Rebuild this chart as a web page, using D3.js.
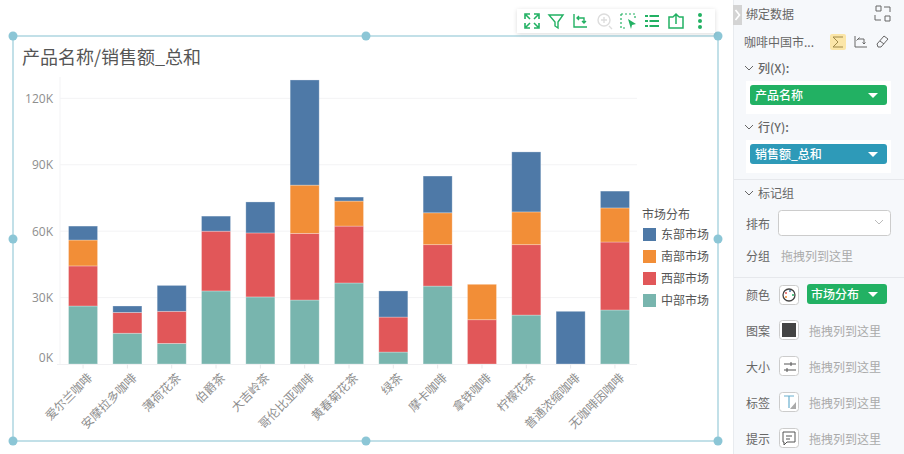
<!DOCTYPE html>
<html>
<meta charset="utf-8">
<style>
  html, body { margin: 0; padding: 0; background: #fff; overflow: hidden; }
  svg { display: block; }
  text { font-family: "Noto Sans CJK SC", "Noto Sans", sans-serif; }
  .tick-label { font-size: 12px; fill: #8e8e8e; }
  .value-label { font-family: "Open Sans", sans-serif; font-size: 12px; fill: #8e8e8e; }
  .panel-label { font-size: 12px; fill: #666; }
  .panel-hint { font-size: 12px; fill: #aaa; }
  .pill-label { font-size: 12px; fill: #fff; font-weight: 500; }
</style>

<body>
  <script src="https://d3js.org/d3.v7.min.js"></script>
  <script>
    // chart data, in thousands
    const products = ["爱尔兰咖啡", "安摩拉多咖啡", "薄荷花茶", "伯爵茶", "大吉岭茶", "哥伦比亚咖啡", "黄春菊花茶", "绿茶", "摩卡咖啡", "拿铁咖啡", "柠檬花茶", "普通浓缩咖啡", "无咖啡因咖啡"];
    const central = [26.2, 13.9, 9.3, 33, 30.3, 28.9, 36.6, 5.4, 35.2, 0, 22.1, 0, 24.4];
    const west = [18.1, 9.4, 14.5, 27, 28.9, 30.1, 25.7, 15.8, 18.7, 20, 31.8, 0, 30.7];
    const south = [11.7, 0, 0, 0, 0, 21.8, 11.3, 0, 14.4, 16, 14.8, 0, 15.4];
    const east = [6.3, 2.9, 11.7, 6.8, 14, 47.5, 1.8, 11.8, 16.6, 0, 27.1, 23.8, 7.6];

    const seriesNames = ["中部市场", "西部市场", "南部市场", "东部市场"];
    const seriesValues = [central, west, south, east];
    const seriesColors = ["#78b5ae", "#e15759", "#f28e37", "#4e79a7"];
    const yTicks = [0, 30, 60, 90, 120];

    const legendNames = ["东部市场", "南部市场", "西部市场", "中部市场"];
    const legendColors = ["#4e79a7", "#f28e37", "#e15759", "#78b5ae"];

    const svg = d3.select("body").append("svg").attr("width", 904).attr("height", 454);

    // shadow for the floating toolbar
    const filter = svg.append("defs").append("filter").attr("id", "shadow")
      .attr("x", "-10%").attr("y", "-30%").attr("width", "120%").attr("height", "160%");
    filter.append("feDropShadow").attr("dx", 0).attr("dy", 1).attr("stdDeviation", 2)
      .attr("flood-color", "#000").attr("flood-opacity", 0.14);

    const x = d3.scaleBand().domain(products).range([61, 637]).paddingInner(0.345).paddingOuter(0.17);
    const y = d3.scaleLinear().domain([0, 130]).range([364, 76.2]);

    // grid
    svg.append("g").selectAll("line").data(yTicks.slice(1)).join("line")
      .attr("x1", 60).attr("x2", 637)
      .attr("y1", d => y(d)).attr("y2", d => y(d))
      .attr("stroke", "#f3f3f5");
    svg.append("line").attr("x1", 60).attr("x2", 60).attr("y1", 77).attr("y2", 364).attr("stroke", "#f3f3f5");

    // stacked bars
    const rows = products.map((p, i) => {
      const row = { product: p };
      seriesNames.forEach((s, j) => { row[s] = seriesValues[j][i]; });
      return row;
    });
    const stacked = d3.stack().keys(seriesNames)(rows);

    svg.append("g").selectAll("g").data(stacked).join("g")
      .attr("fill", (d, i) => seriesColors[i])
      .selectAll("rect").data(d => d.filter(s => s[1] > s[0])).join("rect")
      .attr("x", d => x(d.data.product))
      .attr("y", d => y(d[1]))
      .attr("width", x.bandwidth())
      .attr("height", d => y(d[0]) - y(d[1]))
      .attr("stroke", "#fff")
      .attr("stroke-opacity", 0.35)
      .attr("stroke-width", 0.8);

    // axes
    const yAxis = svg.append("g").attr("transform", "translate(53,0)")
      .call(d3.axisLeft(y).tickValues(yTicks).tickFormat(d => d + "K").tickSize(0));
    yAxis.select(".domain").remove();
    // the 0K label sits above the baseline in the reference
    yAxis.selectAll("text").attr("class", "value-label").attr("x", 0)
      .attr("dy", d => d === 0 ? "-0.25em" : "0.35em").attr("font-family", null).attr("font-size", null);

    const xAxis = svg.append("g").attr("transform", "translate(0,364.5)")
      .call(d3.axisBottom(x).tickSizeOuter(0).tickSize(4));
    xAxis.select(".domain").attr("stroke", "#f0f0f2").attr("d", "M57,0H637");
    xAxis.selectAll("line").attr("stroke", "#e8e8ea");
    xAxis.selectAll("text")
      .attr("class", "tick-label")
      .attr("text-anchor", "end")
      .attr("x", 0).attr("y", 0).attr("dy", 0)
      .attr("transform", "translate(10,14) rotate(-45)");

    // title
    svg.append("text").attr("x", 22).attr("y", 64).attr("font-size", 18).attr("fill", "#555").text("产品名称/销售额_总和");

    // legend
    svg.append("text").attr("x", 642).attr("y", 219).attr("font-size", 12).attr("fill", "#555").text("市场分布");
    const legend = svg.append("g").selectAll("g").data(legendNames).join("g")
      .attr("transform", (d, i) => `translate(643,${228 + i * 22})`);
    legend.append("rect").attr("width", 13).attr("height", 13).attr("fill", (d, i) => legendColors[i]);
    legend.append("text").attr("x", 18).attr("y", 11).attr("font-size", 12).attr("fill", "#555").text(d => d);

    // selection frame and handles
    svg.append("rect").attr("x", 13).attr("y", 36).attr("width", 705).attr("height", 405)
      .attr("fill", "none").attr("stroke", "#c2e0e8").attr("stroke-width", 2);
    const handles = [[13, 36], [366, 36], [718, 36], [13, 239], [718, 239], [13, 441], [366, 441], [718, 441]];
    svg.append("g").selectAll("circle").data(handles).join("circle")
      .attr("cx", d => d[0]).attr("cy", d => d[1]).attr("r", 4.5).attr("fill", "#8cc6d6");

    // floating toolbar
    const green = "#22b163";
    svg.append("rect").attr("x", 517).attr("y", 9).attr("width", 198).attr("height", 24)
      .attr("fill", "#fff").attr("filter", "url(#shadow)");
    const toolIcons = [
      { x: 532, d: "M-7,-2V-7H-2M2,-7H7V-2M7,2V7H2M-2,7H-7V2M-6,-6L-2,-2M6,-6L2,-2M6,6L2,2M-6,6L-2,2", c: green, w: 1.6 },
      { x: 556, d: "M-7,-6H7L2,1V7L-1,5V1Z", c: green, w: 1.4 },
      { x: 580, d: "M-6,-7V6H7M-3,-3H4V2M-1,-5L-3,-3L-1,-1M2,0L4,2L6,0", c: green, w: 1.4 },
      { x: 604, d: "M5,5L8,8M-3,-1H3M0,-4V2", c: "#ddd", w: 1.4 },
      { x: 628, d: "M-7,-7H7V-1M-7,-7V7H-1", c: green, w: 1.2, dash: "2,2" },
      { x: 652, d: "M-7,-5H7M-7,0H7M-7,5H7", c: green, w: 2, dash: "3,1.5,9.5" },
      { x: 676, d: "M-3,-4H-7V7H7V-4H3M0,3V-7M-3,-4L0,-7L3,-4", c: green, w: 1.5 }
    ];
    const tools = svg.append("g").selectAll("g").data(toolIcons).join("g")
      .attr("transform", d => `translate(${d.x},21)`);
    tools.append("path").attr("d", d => d.d).attr("fill", "none")
      .attr("stroke", d => d.c).attr("stroke-width", d => d.w).attr("stroke-dasharray", d => d.dash || null);
    svg.append("circle").attr("cx", 604).attr("cy", 20).attr("r", 6).attr("fill", "none").attr("stroke", "#ddd").attr("stroke-width", 1.4);
    svg.append("path").attr("d", "M628,19L636,24L632,25L631,29Z").attr("fill", green);
    svg.append("g").selectAll("circle").data([-5.5, 0.5, 6.5]).join("circle")
      .attr("cx", 700).attr("cy", d => 20.5 + d).attr("r", 2).attr("fill", green);

    // right side panel
    svg.append("rect").attr("x", 733).attr("y", 0).attr("width", 171).attr("height", 454).attr("fill", "#f6f8fb");
    svg.append("line").attr("x1", 733.5).attr("x2", 733.5).attr("y1", 0).attr("y2", 454).attr("stroke", "#e8ebef");
    svg.append("rect").attr("x", 733).attr("y", 5).attr("width", 9).attr("height", 20).attr("fill", "#d4d4d4");
    svg.append("path").attr("d", "M735.5,10L739.5,15L735.5,20").attr("fill", "none").attr("stroke", "#fff").attr("stroke-width", 1.6);

    const whiteBoxes = [[746, 81, 145, 33], [746, 140, 145, 33]];
    svg.append("g").selectAll("rect").data(whiteBoxes).join("rect")
      .attr("x", d => d[0]).attr("y", d => d[1]).attr("width", d => d[2]).attr("height", d => d[3]).attr("fill", "#fff");

    svg.append("g").selectAll("line").data([179, 277]).join("line")
      .attr("x1", 734).attr("x2", 904).attr("y1", d => d + 0.5).attr("y2", d => d + 0.5).attr("stroke", "#e6e8ec");

    const panelLabels = [
      ["绑定数据", 746, 19], ["咖啡中国市...", 744, 47], ["列(X):", 758, 73], ["行(Y):", 758, 132],
      ["标记组", 758, 198], ["排布", 746, 229], ["分组", 746, 261], ["颜色", 746, 300],
      ["图案", 746, 336], ["大小", 746, 372], ["标签", 746, 408], ["提示", 746, 444]
    ];
    svg.append("g").selectAll("text").data(panelLabels).join("text")
      .attr("class", "panel-label")
      .attr("x", d => d[1]).attr("y", d => d[2])
      .attr("font-weight", d => /[XY]/.test(d[0]) ? 500 : 400)
      .text(d => d[0]);

    const chevrons = [68, 127, 193];
    svg.append("g").selectAll("path").data(chevrons).join("path")
      .attr("d", d => `M745,${d - 2}L749,${d + 2}L753,${d - 2}`)
      .attr("fill", "none").attr("stroke", "#666");

    const hints = [[781, 261], [809, 336], [809, 372], [809, 408], [809, 444]];
    svg.append("g").selectAll("text").data(hints).join("text")
      .attr("class", "panel-hint").attr("x", d => d[0]).attr("y", d => d[1]).text("拖拽列到这里");

    // field pills
    const pills = [
      { x: 750, y: 85, w: 137, h: 20, c: "#22b163", t: "产品名称", tx: 755 },
      { x: 750, y: 144, w: 137, h: 20, c: "#2e9ab8", t: "销售额_总和", tx: 755 },
      { x: 807, y: 284, w: 80, h: 20, c: "#22b163", t: "市场分布", tx: 811 }
    ];
    const pill = svg.append("g").selectAll("g").data(pills).join("g");
    pill.append("rect").attr("x", d => d.x).attr("y", d => d.y).attr("width", d => d.w).attr("height", d => d.h)
      .attr("rx", 3).attr("fill", d => d.c);
    pill.append("text").attr("class", "pill-label").attr("x", d => d.tx).attr("y", d => d.y + 14.5).text(d => d.t);
    pill.append("path").attr("d", d => `M${d.x + d.w - 19},${d.y + 8}h10l-5,5z`).attr("fill", "#fff");

    // select box
    svg.append("rect").attr("x", 778.5).attr("y", 210.5).attr("width", 112).attr("height", 25).attr("rx", 3)
      .attr("fill", "#fff").attr("stroke", "#ccc");
    svg.append("path").attr("d", "M875,220L879,224L883,220").attr("fill", "none").attr("stroke", "#bbb");

    // panel icons
    svg.append("rect").attr("x", 830).attr("y", 34).attr("width", 16).attr("height", 16).attr("rx", 2).attr("fill", "#fbe6a8");
    svg.append("path").attr("d", "M843,37H833L838,42L833,47H843").attr("fill", "none").attr("stroke", "#a08a4a");
    svg.append("path").attr("d", "M855,36V47H867M858,39H864V44M856.5,40.5L858,39L859.5,37.5M862.5,42.5L864,44L865.5,42.5").attr("fill", "none").attr("stroke", "#666");
    svg.append("path").attr("d", "M877,44L884,36L888,39L881,47H878ZM880,41L884,44").attr("fill", "none").attr("stroke", "#666");
    svg.append("path").attr("d", "M876,6H881V11H876ZM885,16H890V21H885ZM884,7H890V12M881,20H875V15").attr("fill", "none").attr("stroke", "#666");

    const iconBoxes = [295, 330, 366, 402, 438];
    svg.append("g").selectAll("rect").data(iconBoxes).join("rect")
      .attr("x", 779.5).attr("y", d => d - 9.5).attr("width", 19).attr("height", 19).attr("rx", 3)
      .attr("fill", "#fff").attr("stroke", "#ccc");
    svg.append("circle").attr("cx", 789).attr("cy", 295).attr("r", 6).attr("fill", "#fff").attr("stroke", "#444").attr("stroke-width", 1.3);
    svg.append("g").selectAll("circle").data([[786, 293, "#e15759"], [790, 291, "#4e79a7"], [793, 295, "#22b163"], [786, 297, "#f28e37"]]).join("circle")
      .attr("cx", d => d[0]).attr("cy", d => d[1]).attr("r", 1).attr("fill", d => d[2]);
    svg.append("rect").attr("x", 782).attr("y", 323).attr("width", 14).attr("height", 14).attr("fill", "#444");
    svg.append("path").attr("d", "M784,364H796M784,370H796M791,362v4M787,368v4").attr("fill", "none").attr("stroke", "#555");
    svg.append("path").attr("d", "M784,396H794M789,396V408").attr("fill", "none").attr("stroke", "#6ab0cf").attr("stroke-width", 1.2);
    svg.append("path").attr("d", "M796,402V409H790Z").attr("fill", "#aaa");
    svg.append("path").attr("d", "M783,432H795V442H787L784,445V442H783ZM786,436H792M786,439H790").attr("fill", "none").attr("stroke", "#555");
  </script>
</body>

</html>
